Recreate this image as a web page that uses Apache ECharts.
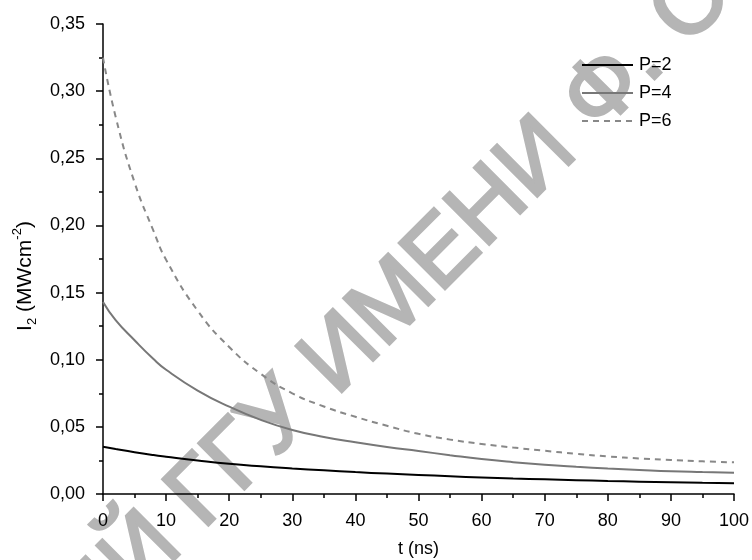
<!DOCTYPE html>
<html>
<head>
<meta charset="utf-8">
<script src="https://cdn.jsdelivr.net/npm/echarts@6/dist/echarts.min.js"></script>
<style>html,body{margin:0;padding:0;background:#fff;}#c{width:752px;height:560px;}</style>
</head>
<body>
<div id="c"></div>
<script>
var tValues = [0, 2, 5, 8, 10, 15, 20, 25, 30, 35, 40, 45, 50, 55, 60, 65, 70, 75, 80, 85, 90, 95, 100];
var p2 = [0.0352, 0.0335, 0.0311, 0.0290, 0.0278, 0.0250, 0.0225, 0.0206, 0.0190, 0.0176, 0.0163, 0.0152, 0.0142, 0.0132, 0.0123, 0.0115, 0.0109, 0.0103, 0.0097, 0.0092, 0.0087, 0.0083, 0.0080];
var p4 = [0.143, 0.1295, 0.1145, 0.1005, 0.0925, 0.0770, 0.0650, 0.0552, 0.0477, 0.0425, 0.0385, 0.0350, 0.0320, 0.0289, 0.0260, 0.0237, 0.0218, 0.0203, 0.0190, 0.0179, 0.0169, 0.0163, 0.0158];
var p6 = [0.325, 0.281, 0.2320, 0.1960, 0.1744, 0.1365, 0.1095, 0.0895, 0.0750, 0.0652, 0.0575, 0.0508, 0.0448, 0.0405, 0.0373, 0.0346, 0.0322, 0.0299, 0.0280, 0.0265, 0.0253, 0.0243, 0.0236];
var seriesNames = ['P=2', 'P=4', 'P=6'];
var xTicks = {min: 0, max: 100, step: 10};
var yTicks = {min: 0, max: 0.35, step: 0.05};

function pairs(ys) { return tValues.map(function (t, i) { return [t, ys[i]]; }); }

var chart = echarts.init(document.getElementById('c'), null, {renderer: 'canvas'});
var font = 'Liberation Sans';
var fs = 18;
chart.setOption({
  animation: false,
  backgroundColor: '#ffffff',
  textStyle: {fontFamily: font},
  grid: {left: 103, right: 18, top: 24, bottom: 66, containLabel: false, outerBoundsMode: 'none'},
  legend: {
    orient: 'vertical', left: 581, top: 56, padding: 0, z: 6,
    itemWidth: 51, itemHeight: 14, itemGap: 10,
    itemStyle: {opacity: 0},
    textStyle: {fontSize: fs, color: '#000', fontFamily: font, padding: [0, 0, 0, 1]},
    data: seriesNames
  },
  xAxis: {
    type: 'value', min: xTicks.min, max: xTicks.max, interval: xTicks.step, z: 4,
    name: 't (ns)', nameLocation: 'middle', nameGap: 46,
    nameTextStyle: {fontSize: fs, color: '#000', fontFamily: font},
    axisLine: {lineStyle: {color: '#000', width: 1.5}},
    axisTick: {inside: false, length: 7, lineStyle: {color: '#000', width: 1.5}},
    minorTick: {show: true, splitNumber: 2, length: 4, lineStyle: {color: '#000', width: 1.5}},
    axisLabel: {fontSize: fs, color: '#000', margin: 18, fontFamily: font},
    splitLine: {show: false}
  },
  yAxis: {
    type: 'value', min: yTicks.min, max: yTicks.max, interval: yTicks.step, z: 4,
    name: '{a|I}{s|2}{a| (MWcm}{p|-2}{a|)}', nameLocation: 'middle', nameGap: 63,
    nameTextStyle: {
      color: '#000', fontFamily: font, padding: [0, 34, 0, 0],
      rich: {
        a: {fontSize: 21, color: '#000', fontFamily: font, lineHeight: 28},
        s: {fontSize: 13, color: '#000', fontFamily: font, verticalAlign: 'bottom', lineHeight: 28},
        p: {fontSize: 13, color: '#000', fontFamily: font, verticalAlign: 'top', lineHeight: 28}
      }
    },
    axisLine: {show: true, lineStyle: {color: '#000', width: 1.5}},
    axisTick: {show: true, inside: false, length: 7, lineStyle: {color: '#000', width: 1.5}},
    minorTick: {show: true, splitNumber: 2, length: 4, lineStyle: {color: '#000', width: 1.5}},
    axisLabel: {fontSize: fs, color: '#000', margin: 18, fontFamily: font,
      formatter: function (v) { return v.toFixed(2).replace('.', ','); }},
    splitLine: {show: false}
  },
  series: [
    {name: seriesNames[0], type: 'line', data: pairs(p2), smooth: 0.5, symbol: 'none', z: 5,
     lineStyle: {color: '#000', width: 2}, itemStyle: {color: '#000'}},
    {name: seriesNames[1], type: 'line', data: pairs(p4), smooth: 0.5, symbol: 'none', z: 5,
     lineStyle: {color: '#777', width: 2}, itemStyle: {color: '#777'}},
    {name: seriesNames[2], type: 'line', data: pairs(p6), smooth: 0.5, symbol: 'none', z: 5,
     lineStyle: {color: '#888', width: 2, type: [6, 5]}, itemStyle: {color: '#888'}}
  ],
  graphic: [
    {type: 'text', z: 1, x: 299, y: 398, rotation: Math.PI / 4, silent: true,
     style: {text: 'РЕПОЗИТОРИЙ ГГУ', fill: '#b5b5b5', stroke: '#b5b5b5', lineWidth: 3, lineJoin: 'miter',
       font: '94px Liberation Sans', textAlign: 'right', textVerticalAlign: 'middle'}},
    {type: 'text', z: 1, x: 318, y: 379, rotation: Math.PI / 4, silent: true,
     style: {text: 'ИМЕНИ Ф. СКОРИНЫ', fill: '#b5b5b5', stroke: '#b5b5b5', lineWidth: 3, lineJoin: 'miter',
       font: '94px Liberation Sans', textAlign: 'left', textVerticalAlign: 'middle'}}
  ]
});
</script>
</body>
</html>
